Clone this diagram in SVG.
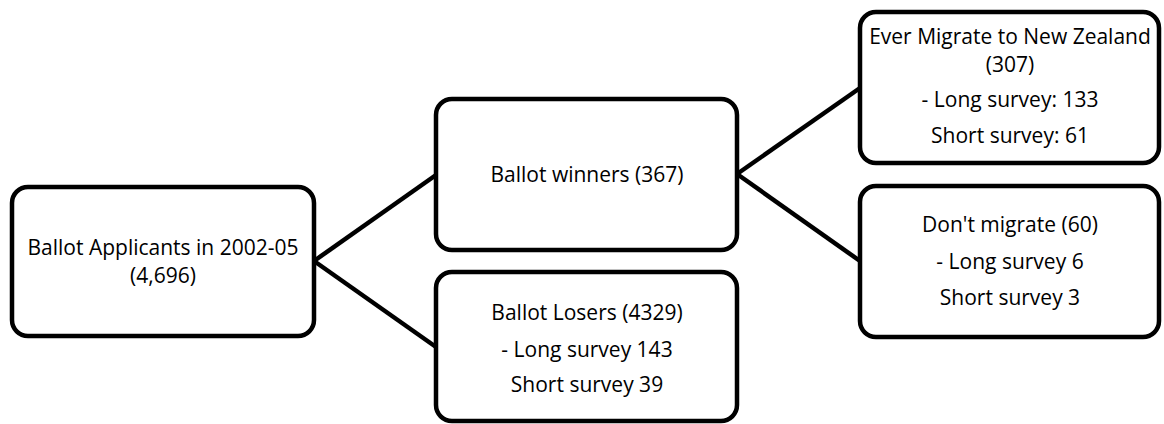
<svg xmlns="http://www.w3.org/2000/svg" width="1164" height="424" viewBox="0 0 1164 424">
  <style>
    .box { fill: #ffffff; stroke: #000000; stroke-width: 4.5; }
    .conn { stroke: #000000; stroke-width: 4.5; fill: none; }
    text { font-family: "Open Sans", "Liberation Sans", sans-serif; font-size: 21px; fill: #000000; text-anchor: middle; }
  </style>
  <rect width="1164" height="424" fill="#ffffff"/>
  <g id="connectors">
    <line class="conn" x1="314" y1="261" x2="436" y2="175"/>
    <line class="conn" x1="314" y1="261" x2="436" y2="347"/>
    <line class="conn" x1="737" y1="174" x2="860" y2="88"/>
    <line class="conn" x1="737" y1="174" x2="860" y2="261"/>
  </g>
  <g id="node-applicants">
    <rect class="box" x="12" y="187" width="302" height="149" rx="16"/>
    <text x="163" y="255">Ballot Applicants in 2002-05</text>
    <text x="163" y="283">(4,696)</text>
  </g>
  <g id="node-winners">
    <rect class="box" x="436" y="99" width="301" height="151" rx="16"/>
    <text x="587" y="182">Ballot winners (367)</text>
  </g>
  <g id="node-losers">
    <rect class="box" x="436" y="272" width="301" height="149" rx="16"/>
    <text x="587" y="320">Ballot Losers (4329)</text>
    <text x="587" y="357">- Long survey 143</text>
    <text x="587" y="392">Short survey 39</text>
  </g>
  <g id="node-migrate">
    <rect class="box" x="860" y="12" width="299" height="151" rx="16"/>
    <text x="1010" y="44">Ever Migrate to New Zealand</text>
    <text x="1010" y="72">(307)</text>
    <text x="1010" y="107">- Long survey: 133</text>
    <text x="1010" y="143">Short survey: 61</text>
  </g>
  <g id="node-dontmigrate">
    <rect class="box" x="860" y="186" width="299" height="151" rx="16"/>
    <text x="1010" y="232">Don't migrate (60)</text>
    <text x="1010" y="269">- Long survey 6</text>
    <text x="1010" y="305">Short survey 3</text>
  </g>
</svg>
